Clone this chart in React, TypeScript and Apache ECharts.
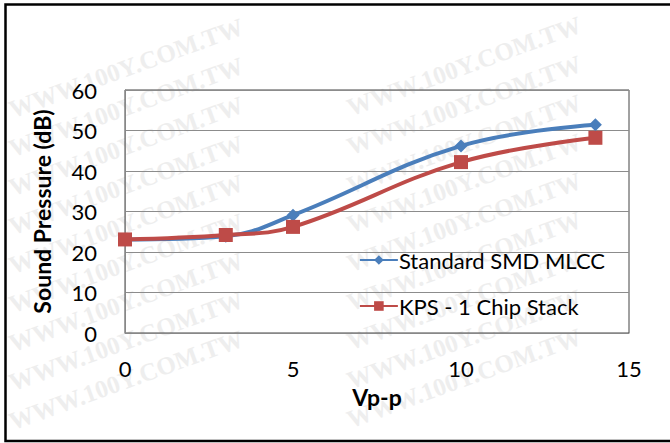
import React, { useEffect, useRef } from "react";
import * as echarts from "echarts";

const xValues = [0, 3, 5, 10, 14];
const standardSMD = [23.1, 23.9, 29.1, 46.2, 51.4];
const kpsStack = [23.1, 24.2, 26.2, 42.2, 48.2];
const seriesNames = ["Standard SMD MLCC", "KPS - 1 Chip Stack"];
const watermarkText = "WWW.100Y.COM.TW";

const FONT = "Lato, 'Open Sans', sans-serif";

export default function App() {
  const ref = useRef<HTMLDivElement>(null);
  useEffect(() => {
    if (!ref.current) return;
    const chart = echarts.init(ref.current, null, { renderer: "svg" });
    const marks: any[] = [];
    for (let r = 0; r < 9; r++) {
      for (let c = 0; c < 2; c++) {
        const y = 122 + r * 39 + (c === 1 ? -2 : 0);
        if (y > 436) continue;
        marks.push({
          type: "text",
          x: c === 0 ? 14 : 352,
          y,
          rotation: (20 * Math.PI) / 180,
          silent: true,
          z: -10,
          style: {
            text: watermarkText,
            font: "bold 25px 'Liberation Serif', serif",
            fill: "#eeeeee",
            verticalAlign: "bottom",
          },
        });
      }
    }
    marks.push({
      type: "rect",
      shape: { x: 5.5, y: 4.5, width: 700, height: 436.5 },
      silent: true,
      z: -5,
      style: { fill: "none", stroke: "#000", lineWidth: 2.5 },
    });
    chart.setOption({
      animation: false,
      backgroundColor: "#fff",
      textStyle: { fontFamily: FONT },
      graphic: marks,
      grid: {
        left: 125,
        right: 41,
        top: 90,
        bottom: 110,
        show: true,
        borderColor: "#444",
        borderWidth: 1,
        backgroundColor: "transparent",
      },
      legend: {
        orient: "vertical",
        right: 60,
        top: 244,
        itemGap: 24,
        itemWidth: 38,
        itemHeight: 12,
        data: seriesNames,
        textStyle: { fontSize: 22, color: "#000", fontFamily: FONT, padding: [0, 0, 0, -4] },
      },
      xAxis: {
        type: "value",
        min: 0,
        max: 15,
        interval: 5,
        name: "Vp-p",
        nameLocation: "middle",
        nameGap: 52,
        nameTextStyle: { fontSize: 23, fontWeight: "bold", color: "#000", fontFamily: FONT },
        axisLine: { show: true, lineStyle: { color: "#888" } },
        axisTick: { show: false },
        splitLine: { show: false },
        axisLabel: { fontSize: 22, color: "#000", margin: 24, fontFamily: FONT },
      },
      yAxis: {
        type: "value",
        min: 0,
        max: 60,
        interval: 10,
        name: "Sound Pressure (dB)",
        nameLocation: "middle",
        nameGap: 72,
        nameTextStyle: { fontSize: 23, fontWeight: "bold", color: "#000", fontFamily: FONT },
        axisLine: { show: true, lineStyle: { color: "#888" } },
        axisTick: { show: false },
        splitLine: { show: true, lineStyle: { color: "#8c8c8c", width: 1 } },
        axisLabel: { fontSize: 22, color: "#000", margin: 28, fontFamily: FONT },
      },
      series: [
        {
          name: seriesNames[0],
          type: "line",
          smooth: 0.4,
          data: xValues.map((x, i) => [x, standardSMD[i]]),
          symbol: "diamond",
          symbolSize: 13,
          lineStyle: { color: "#4A7EBB", width: 4 },
          itemStyle: { color: "#4A7EBB" },
          z: 2,
        },
        {
          name: seriesNames[1],
          type: "line",
          smooth: 0.4,
          data: xValues.map((x, i) => [x, kpsStack[i]]),
          symbol: "rect",
          symbolSize: 14,
          lineStyle: { color: "#BE4B48", width: 4 },
          itemStyle: { color: "#BE4B48" },
          z: 3,
        },
      ],
    });
    return () => chart.dispose();
  }, []);
  return <div ref={ref} style={{ width: 670, height: 443, position: "absolute", left: 0, top: 0 }} />;
}
